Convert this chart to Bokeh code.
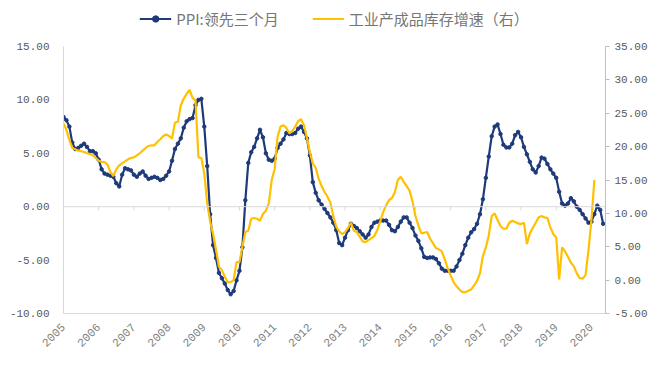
from math import pi
from bokeh.plotting import figure
from bokeh.layouts import column
from bokeh.models import (Range1d, LinearAxis, FixedTicker, NumeralTickFormatter,
                          Span, Legend, LegendItem)
from bokeh.embed import file_html
from bokeh.resources import INLINE

# ---------------- data (monthly, starting Jan 2005) ----------------
start_year = 2005
years = list(range(2005, 2021))
left_ticks = [-10, -5, 0, 5, 10, 15]
right_ticks = [-5, 0, 5, 10, 15, 20, 25, 30, 35]

ppi_name = "PPI:领先三个月"
inv_name = "工业产成品库存增速（右）"

ppi = [
    8.4, 8.1, 7.5, 6.0, 5.4, 5.5, 5.7, 5.9, 5.6, 5.2, 5.2, 5.0,          # 2005
    4.4, 3.5, 3.1, 3.0, 2.9, 2.8, 2.2, 1.9, 3.0, 3.6, 3.5, 3.4,          # 2006
    3.0, 2.8, 3.1, 3.3, 2.9, 2.6, 2.7, 2.8, 2.7, 2.5, 2.6, 2.9,          # 2007
    3.3, 4.3, 5.4, 5.9, 6.4, 7.4, 8.0, 8.2, 8.3, 9.5, 10.0, 10.1,        # 2008
    7.5, 3.8, -0.7, -3.6, -4.8, -6.2, -6.7, -7.2, -7.8, -8.2, -7.9, -6.9,  # 2009
    -6.0, -3.8, 0.6, 4.1, 5.1, 5.6, 6.4, 7.2, 6.5, 5.0, 4.4, 4.3,        # 2010
    4.5, 5.5, 5.9, 6.3, 6.9, 6.8, 6.8, 6.9, 7.3, 7.5, 7.0, 6.4,          # 2011
    4.8, 2.3, 1.3, 0.6, 0.2, -0.2, -0.6, -1.0, -1.5, -2.2, -3.4, -3.6,   # 2012
    -2.9, -2.2, -1.6, -1.8, -2.0, -2.3, -2.6, -2.9, -2.6, -1.9, -1.5, -1.4,  # 2013
    -1.3, -1.3, -1.3, -1.7, -2.2, -2.3, -1.9, -1.4, -1.0, -1.0, -1.5, -2.0,  # 2014
    -2.7, -3.2, -3.9, -4.7, -4.8, -4.75, -4.75, -4.9, -5.3, -5.8, -6.0, -6.0,  # 2015
    -6.0, -6.0, -5.6, -5.0, -4.4, -3.6, -2.9, -2.4, -2.1, -1.6, -0.7, 0.7,   # 2016
    2.7, 4.7, 6.6, 7.5, 7.7, 6.8, 5.8, 5.55, 5.55, 5.9, 6.7, 7.0,        # 2017
    6.5, 5.6, 4.9, 4.2, 3.5, 3.2, 3.8, 4.6, 4.5, 4.0, 3.5, 3.1,          # 2018
    2.7, 1.4, 0.3, 0.1, 0.3, 0.8, 0.5, 0.0, -0.3, -0.7, -1.1, -1.5,      # 2019
    -1.4, -0.7, 0.1, -0.3, -1.6,                                        # 2020
]

inv = [
    23.5, 22.5, 21.0, 19.8, 19.6, 19.4, 19.3, 19.2, 19.0, 18.9, 18.7, 18.3,  # 2005
    17.9, 17.7, 17.7, 17.3, 16.2, 15.6, 16.6, 17.2, 17.5, 17.8, 18.1, 18.3,  # 2006
    18.4, 18.7, 19.0, 19.4, 19.8, 20.1, 20.2, 20.2, 20.7, 21.1, 21.6, 21.8,  # 2007
    21.6, 21.2, 23.6, 23.7, 26.2, 27.2, 27.9, 28.5, 27.3, 26.9, 18.4, 18.3,  # 2008
    16.0, 11.5, 8.8, 6.9, 4.6, 2.0, 1.5, 0.5, -0.3, -0.3, 0.0, 2.7,          # 2009
    2.7, 5.0, 7.2, 7.4, 9.2, 9.3, 9.2, 8.9, 9.9, 10.4, 11.5, 15.0,           # 2010
    16.7, 21.5, 23.0, 23.2, 22.8, 22.0, 22.3, 23.0, 23.8, 24.1, 23.2, 21.3,  # 2011
    19.2, 17.5, 16.8, 15.2, 14.1, 13.2, 12.5, 11.6, 9.6, 8.0, 7.3, 6.9,      # 2012
    7.2, 7.8, 8.6, 7.4, 7.2, 6.5, 5.8, 5.7, 6.0, 6.3, 6.6, 7.5,              # 2013
    8.8, 10.2, 11.2, 12.0, 12.3, 13.2, 15.0, 15.5, 14.7, 14.1, 13.4, 11.8,   # 2014
    9.6, 8.2, 7.0, 7.1, 7.2, 6.2, 5.5, 4.8, 4.6, 4.3, 3.1, 1.8,              # 2015
    0.7, -0.3, -0.9, -1.4, -1.8, -1.8, -1.6, -1.4, -0.8, -0.1, 1.0, 3.6,     # 2016
    4.9, 6.7, 9.6, 10.0, 9.0, 8.1, 7.7, 7.7, 8.6, 8.9, 8.7, 8.5,             # 2017
    8.4, 8.6, 5.4, 7.0, 7.8, 8.6, 9.4, 9.6, 9.4, 9.3, 7.9, 6.9,              # 2018
    6.4, 0.1, 4.9, 4.3, 3.5, 2.6, 2.1, 1.0, 0.3, 0.2, 0.8, 4.5,              # 2019
    9.0, 15.0,                                                               # 2020
]

x_ppi = [start_year + i / 12 for i in range(len(ppi))]
x_inv = [start_year + i / 12 for i in range(len(inv))]

BLUE = "#1f3a7a"
GOLD = "#ffc000"
AXIS = "#d9d9d9"
TXT = "#595959"
NUM_FONT = "Liberation Mono"
CJK_FONT = "Noto Sans CJK SC"
W = 652
LEG_H = 36

# ---------------- main chart ----------------
p = figure(width=W, height=367 - LEG_H, output_backend="svg", toolbar_location=None,
           x_range=Range1d(2005, 2020.4), y_range=Range1d(-10, 15),
           min_border_left=63, min_border_right=47, min_border_top=46 - LEG_H,
           min_border_bottom=54)
p.extra_y_ranges = {"right": Range1d(-5, 35)}
p.xgrid.visible = False
p.ygrid.visible = False
p.outline_line_color = None
p.background_fill_color = "white"
p.border_fill_color = "white"

# zero line with year ticks
p.add_layout(Span(location=0, dimension="width", line_color=AXIS, line_width=1))
p.segment(x0=years, y0=[0] * len(years), x1=years, y1=[-0.35] * len(years),
          line_color=AXIS, line_width=1)

# series
p.line(x_ppi, ppi, line_color=BLUE, line_width=2.2)
p.scatter(x_ppi, ppi, size=3.5, fill_color=BLUE, line_color=BLUE)
p.line(x_inv, inv, line_color=GOLD, line_width=2.2, y_range_name="right")

# x axis
xa = p.xaxis[0]
xa.ticker = FixedTicker(ticks=years)
xa.major_label_orientation = pi / 4
xa.axis_line_color = AXIS
xa.major_tick_line_color = None
xa.minor_tick_line_color = None
xa.major_label_text_color = "#7f7f7f"
xa.major_label_text_font = NUM_FONT
xa.major_label_text_font_size = "11.5px"
xa.major_label_standoff = 6

# left axis
ya = p.yaxis[0]
ya.ticker = FixedTicker(ticks=left_ticks)
ya.formatter = NumeralTickFormatter(format="0.00")
ya.axis_line_color = AXIS
ya.major_tick_line_color = None
ya.minor_tick_line_color = None
ya.major_label_text_color = TXT
ya.major_label_text_font = NUM_FONT
ya.major_label_text_font_size = "11px"
ya.major_label_standoff = 8

# right axis
ra = LinearAxis(y_range_name="right", ticker=FixedTicker(ticks=right_ticks),
                formatter=NumeralTickFormatter(format="0.00"))
ra.axis_line_color = "#bfbfbf"
ra.major_tick_line_color = "#bfbfbf"
ra.major_tick_out = 4
ra.major_tick_in = 0
ra.minor_tick_line_color = None
ra.major_label_text_color = TXT
ra.major_label_text_font = NUM_FONT
ra.major_label_text_font_size = "11px"
ra.major_label_standoff = 5
p.add_layout(ra, "right")

# ---------------- legend strip ----------------
# legend-only figure: the series are attached but lie outside its (0..1) view
lf = figure(width=W, height=LEG_H, output_backend="svg", toolbar_location=None,
            x_range=Range1d(0, 1), y_range=Range1d(0, 1), min_border=0)
lf.axis.visible = False
lf.xgrid.visible = False
lf.ygrid.visible = False
lf.outline_line_color = None
l1 = lf.line(x_ppi, ppi, line_color=BLUE, line_width=2.2)
l2 = lf.scatter(x_ppi, ppi, size=4, fill_color=BLUE, line_color=BLUE)
l3 = lf.line(x_inv, inv, line_color=GOLD, line_width=2.2)
legend = Legend(items=[LegendItem(label=ppi_name, renderers=[l1, l2]),
                       LegendItem(label=inv_name, renderers=[l3])],
                orientation="horizontal", location="center",
                label_text_font=CJK_FONT, label_text_font_size="15px",
                label_text_color="#767676", glyph_width=32, glyph_height=16,
                label_height=16, label_standoff=5,
                spacing=33, padding=0, margin=0, border_line_color=None,
                background_fill_alpha=0)
lf.add_layout(legend)

layout = column(lf, p, spacing=0)
open("out.html", "w").write(file_html(layout, INLINE))
